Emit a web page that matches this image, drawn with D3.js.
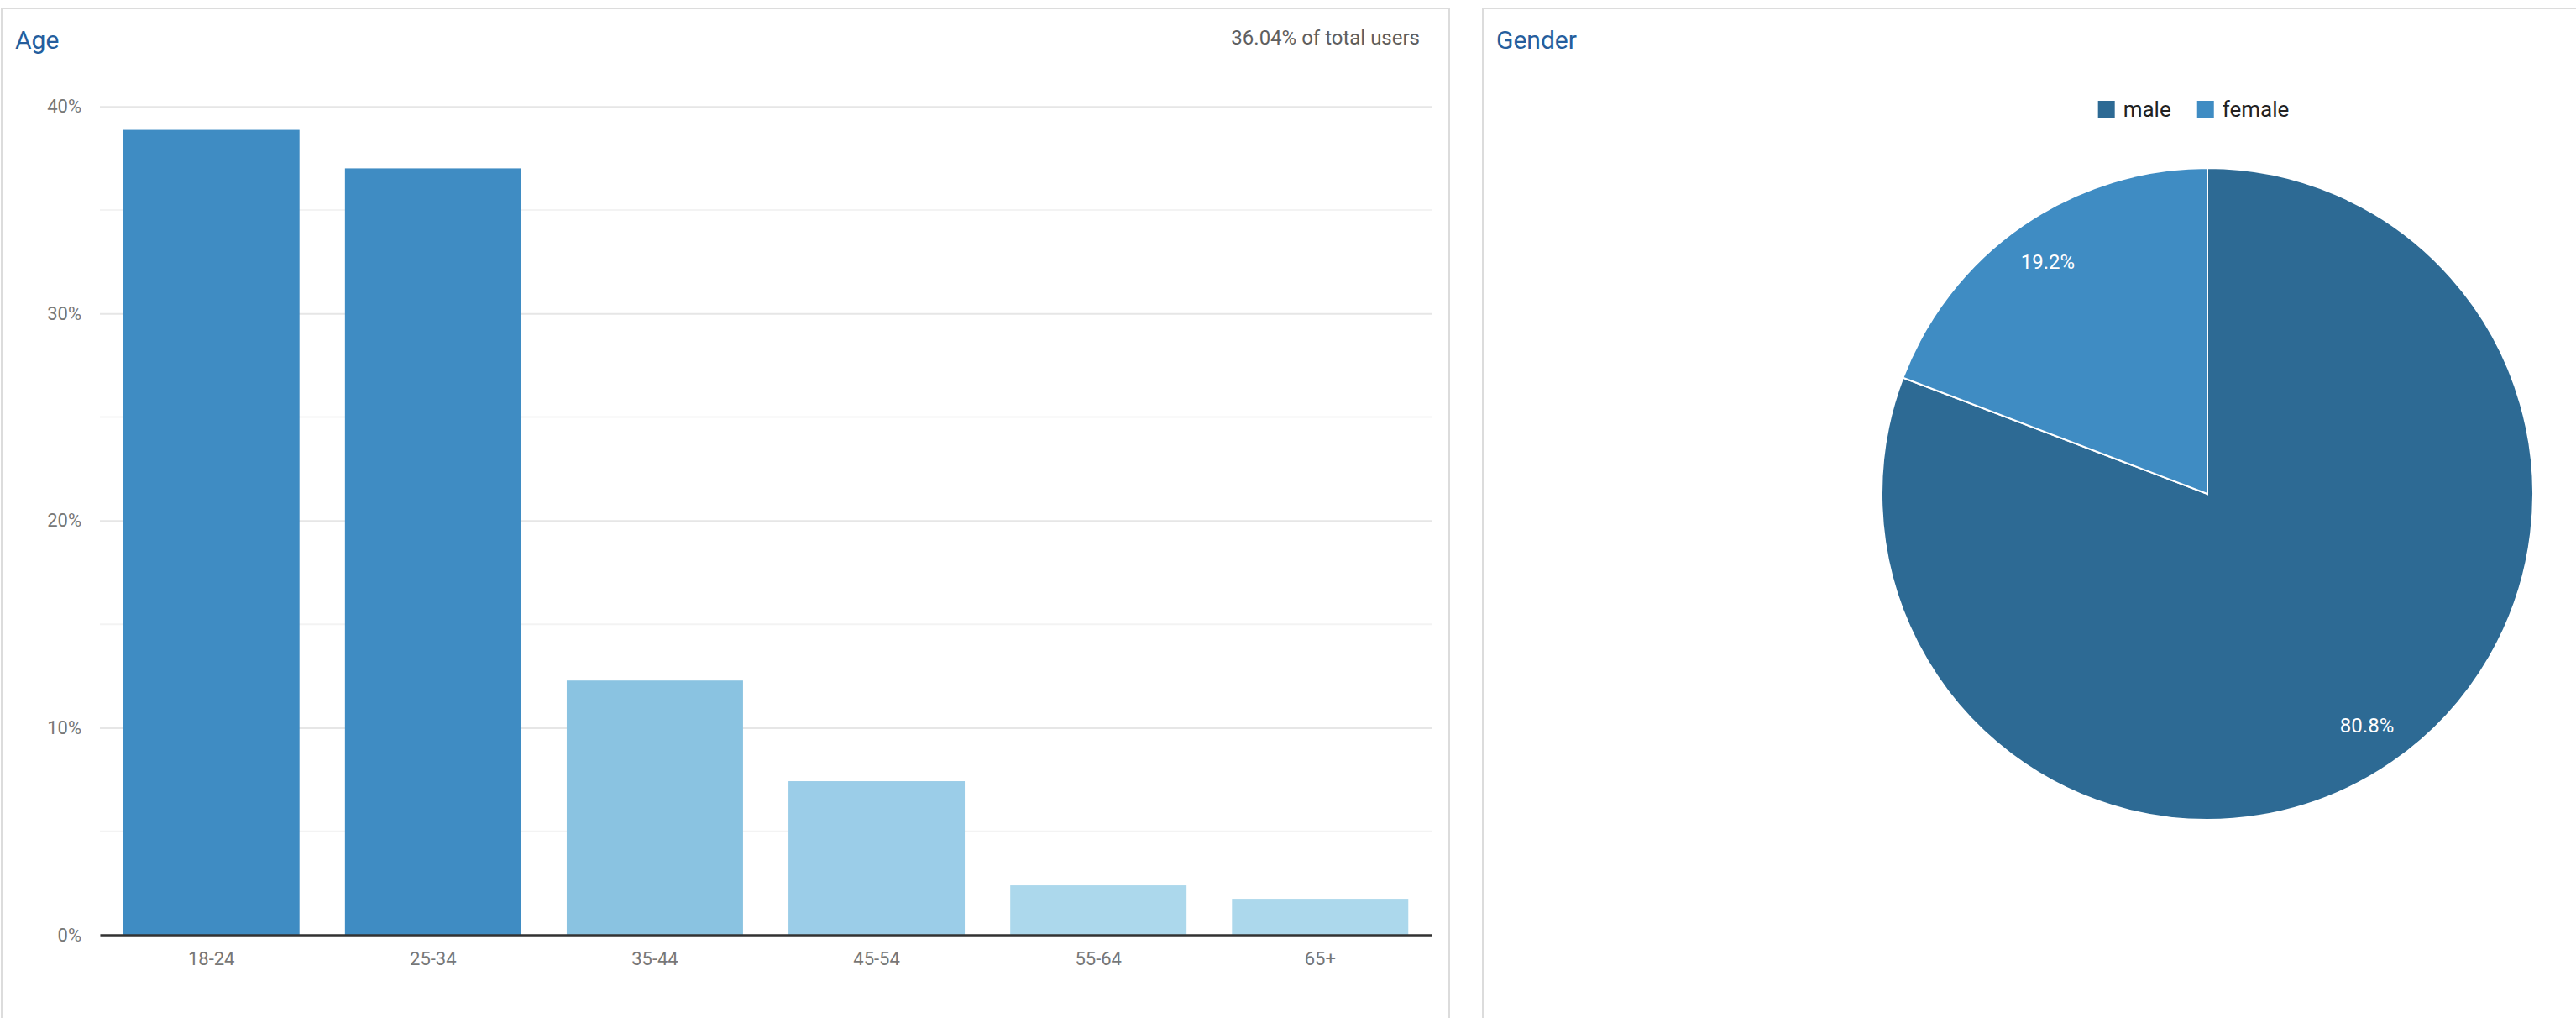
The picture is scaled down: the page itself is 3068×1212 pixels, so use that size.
<!DOCTYPE html>
<html>
<head>
<meta charset="utf-8">
<script src="https://cdn.jsdelivr.net/npm/d3@7"></script>
<style>
  body { margin: 0; background: #fff; }
  svg { display: block; font-family: Roboto, "Noto Sans", sans-serif; }
</style>
</head>
<body>
<div id="chart"></div>
<script>
"use strict";

// age panel data
const ageGroups = ["18-24", "25-34", "35-44", "45-54", "55-64", "65+"];
const agePct = [38.87, 37.01, 12.28, 7.42, 2.39, 1.74];
const yTicks = [0, 10, 20, 30, 40];
const yMinorTicks = [5, 15, 25, 35];
const totalNote = "36.04% of total users";

// gender panel data
const genders = ["male", "female"];
const genderPct = [80.8, 19.2];

const ageColors = ["#3f8cc3", "#3f8cc3", "#8ac3e1", "#9bcde8", "#acd8ec", "#acd8ec"];
const genderColors = ["#2d6a94", "#3f8cc3"];

const W = 3068;
const H = 1212;

const svg = d3
  .select("#chart")
  .append("svg")
  .attr("width", W)
  .attr("height", H);

svg.append("rect").attr("width", W).attr("height", H).attr("fill", "#fff");

// panel frames
svg
  .append("rect")
  .attr("x", 2)
  .attr("y", 10)
  .attr("width", 1724)
  .attr("height", 1400)
  .attr("fill", "none")
  .attr("stroke", "#dcdcdc")
  .attr("stroke-width", 2);

svg
  .append("rect")
  .attr("x", 1766)
  .attr("y", 10)
  .attr("width", 1500)
  .attr("height", 1400)
  .attr("fill", "none")
  .attr("stroke", "#dcdcdc")
  .attr("stroke-width", 2);

// ---- Age bar chart ----
const plot = { left: 119, right: 1705, top: 126.7, bottom: 1113 };

const x = d3
  .scaleBand()
  .domain(ageGroups)
  .range([plot.left, plot.right])
  .paddingInner(0.205)
  .paddingOuter(0.105);

const y = d3.scaleLinear().domain([0, 40]).range([plot.bottom, plot.top]);

svg
  .append("text")
  .attr("x", 18)
  .attr("y", 58)
  .attr("font-size", "30px")
  .attr("fill", "#255e9d")
  .text("Age");

svg
  .append("text")
  .attr("x", 1691)
  .attr("y", 53)
  .attr("text-anchor", "end")
  .attr("font-size", "24px")
  .attr("fill", "#5f5f5f")
  .text(totalNote);

// minor gridlines
svg
  .append("g")
  .selectAll("line")
  .data(yMinorTicks)
  .join("line")
  .attr("x1", plot.left)
  .attr("x2", plot.right)
  .attr("y1", (d) => y(d))
  .attr("y2", (d) => y(d))
  .attr("stroke", "#f3f3f3")
  .attr("stroke-width", 2);

// major gridlines + labels via axis
const yAxis = svg
  .append("g")
  .attr("transform", `translate(${plot.left},0)`)
  .call(
    d3
      .axisLeft(y)
      .tickValues(yTicks)
      .tickSize(-(plot.right - plot.left))
      .tickPadding(22)
      .tickFormat((d) => d + "%")
  );
yAxis.select(".domain").remove();
yAxis
  .selectAll(".tick line")
  .attr("stroke", "#e6e6e6")
  .attr("stroke-width", 2);
yAxis
  .selectAll(".tick text")
  .attr("font-family", "Roboto, sans-serif")
  .attr("font-size", "22px")
  .attr("fill", "#777");

// bars
svg
  .append("g")
  .selectAll("rect")
  .data(agePct)
  .join("rect")
  .attr("x", (d, i) => x(ageGroups[i]))
  .attr("y", (d) => y(d))
  .attr("width", x.bandwidth())
  .attr("height", (d) => y(0) - y(d))
  .attr("fill", (d, i) => ageColors[i]);

// baseline + category labels
const xAxis = svg
  .append("g")
  .attr("transform", `translate(0,${plot.bottom})`)
  .call(d3.axisBottom(x).tickSize(0).tickPadding(20));
xAxis
  .select(".domain")
  .attr("stroke", "#333")
  .attr("stroke-width", 2.5);
xAxis
  .selectAll(".tick text")
  .attr("font-family", "Roboto, sans-serif")
  .attr("font-size", "22px")
  .attr("fill", "#777");

// ---- Gender pie ----
svg
  .append("text")
  .attr("x", 1782)
  .attr("y", 58)
  .attr("font-size", "30px")
  .attr("fill", "#255e9d")
  .text("Gender");

const cx = 2629;
const cy = 588;
const r = 388;

const pie = d3.pie().sort(null).value((d) => d)(genderPct);
const arc = d3.arc().innerRadius(0).outerRadius(r);
const labelArc = d3.arc().innerRadius(335).outerRadius(335);

const pg = svg.append("g").attr("transform", `translate(${cx},${cy})`);

pg.selectAll("path")
  .data(pie)
  .join("path")
  .attr("d", arc)
  .attr("fill", (d, i) => genderColors[i])
  .attr("stroke", "#fff")
  .attr("stroke-width", 2);

pg.selectAll("text")
  .data(pie)
  .join("text")
  .attr("transform", (d) => `translate(${labelArc.centroid(d)})`)
  .attr("text-anchor", "middle")
  .attr("dominant-baseline", "central")
  .attr("font-size", "24px")
  .attr("fill", "#fff")
  .text((d) => d.data.toFixed(1) + "%");

// legend
const legend = svg.append("g").attr("transform", "translate(0,120)");
const items = legend
  .selectAll("g")
  .data(genders)
  .join("g");
items
  .append("rect")
  .attr("width", 20)
  .attr("height", 20)
  .attr("fill", (d, i) => genderColors[i]);
items
  .append("text")
  .attr("x", 30)
  .attr("y", 19)
  .attr("font-size", "26px")
  .attr("fill", "#222")
  .text((d) => d);

let offset = 0;
const widths = [];
items.each(function () {
  const w = 30 + this.querySelector("text").getComputedTextLength();
  widths.push(w);
});
const totalW = d3.sum(widths) + 31 * (widths.length - 1);
let startX = 2612.5 - totalW / 2;
items.attr("transform", (d, i) => {
  const tx = startX + offset;
  offset += widths[i] + 31;
  return `translate(${tx},0)`;
});
</script>
</body>
</html>
